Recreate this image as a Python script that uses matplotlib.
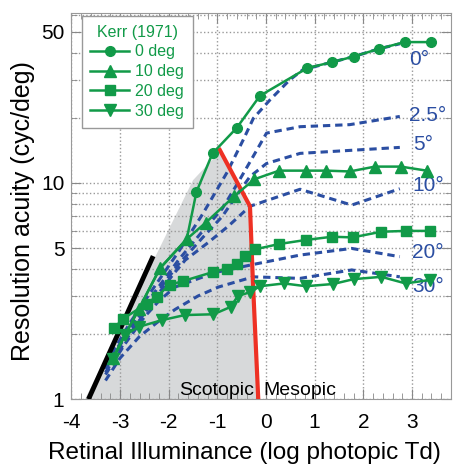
import numpy as np
import matplotlib
matplotlib.use('Agg')
import matplotlib.pyplot as plt
from matplotlib.ticker import FixedLocator, NullFormatter, MultipleLocator

plt.rcParams['font.family'] = ['Liberation Sans', 'DejaVu Sans']
plt.rcParams['axes.unicode_minus'] = False

# Kerr (1971) data, x = log retinal illuminance, y = acuity (cyc/deg)
x_0deg = [-3.15, -2.62, -2.18, -1.63, -1.43, -1.10, -0.60, -0.125, 0.85, 1.36, 1.80, 2.32, 2.85, 3.39]
y_0deg = [1.55, 2.6, 4.03, 5.5, 9.1, 13.7, 18.0, 25.3, 34.0, 36.2, 38.4, 41.7, 44.8, 44.8]

x_10deg = [-3.15, -2.62, -2.18, -1.63, -1.24, -0.65, -0.24, 0.27, 0.82, 1.24, 1.72, 2.24, 2.77, 3.30]
y_10deg = [1.55, 2.6, 4.03, 5.5, 6.55, 8.7, 10.4, 11.4, 11.4, 11.4, 11.3, 11.9, 11.9, 11.4]

x_20deg = [-3.12, -2.93, -2.45, -2.25, -1.98, -1.70, -1.08, -0.81, -0.60, -0.43, -0.23,
           0.27, 0.82, 1.36, 1.78, 2.37, 2.87, 3.37]
y_20deg = [2.14, 2.36, 2.77, 2.98, 3.38, 3.52, 3.88, 4.02, 4.22, 4.58, 4.93,
           5.22, 5.45, 5.64, 5.6, 5.95, 6.0, 6.0]

x_30deg = [-3.14, -2.90, -2.62, -2.14, -1.67, -1.08, -0.73, -0.58, -0.32, -0.125,
           0.37, 0.82, 1.38, 1.80, 2.37, 2.87, 3.37]
y_30deg = [1.54, 1.98, 2.16, 2.32, 2.45, 2.47, 2.67, 3.0, 3.13, 3.33,
           3.43, 3.33, 3.41, 3.59, 3.68, 3.43, 3.56]

# model curves (blue dashed)
model_labels = ['0°', '2.5°', '5°', '10°', '20°', '30°']
model_x = [
    [-3.3, -2.8, -2.3, -1.8, -1.3, -0.8, -0.47, -0.26, 0.08, 0.49, 0.76, 1.36, 1.8, 2.32, 2.75],
    [-3.3, -2.8, -2.3, -1.8, -1.3, -0.9, -0.58, -0.27, 0.01, 0.7, 1.72, 2.75],
    [-3.3, -2.8, -2.3, -1.8, -1.3, -0.9, -0.48, -0.33, 0.01, 0.7, 2.75],
    [-3.3, -2.8, -2.3, -1.9, -1.66, -1.19, -0.78, -0.33, 0.7, 1.76, 2.75],
    [-3.3, -2.9, -2.5, -2.2, -1.87, -1.05, -0.26, 0.7, 1.76, 2.75],
    [-3.3, -3.0, -2.6, -2.2, -1.87, -1.4, -0.98, -0.5, -0.26, 0.7, 1.76, 2.75],
]
model_y = [
    [1.45, 2.25, 3.3, 4.8, 7.2, 11.2, 15.8, 19.9, 24.2, 30.0, 33.4, 36.2, 38.4, 41.7, 44.0],
    [1.4, 2.15, 3.1, 4.4, 6.0, 7.6, 10.0, 13.2, 17.0, 18.2, 18.6, 20.3],
    [1.38, 2.1, 3.0, 4.2, 5.6, 7.0, 9.6, 10.7, 12.3, 13.7, 14.6],
    [1.33, 2.0, 2.9, 3.8, 4.4, 5.3, 6.3, 7.8, 9.35, 7.9, 9.4],
    [1.3, 1.8, 2.4, 2.85, 3.3, 3.85, 4.2, 4.64, 4.98, 4.56],
    [1.22, 1.55, 1.95, 2.3, 2.6, 3.0, 3.3, 3.55, 3.68, 3.62, 3.96, 3.68],
]
label_pos_x = [2.95, 2.93, 3.03, 3.0, 3.0, 3.0]
label_pos_y = [37.1, 20.6, 15.0, 9.7, 4.76, 3.31]

# scotopic region, scotopic/mesopic boundary, slope line
shade_x = [-3.72, -1.5, -1.01, -0.95, -0.33, -0.27, -0.16]
shade_y = [1.0, 10.3, 13.5, 14.2, 7.8, 3.5, 1.0]
bound_x = [-0.95, -0.33, -0.27, -0.16]
bound_y = [14.2, 7.8, 3.5, 1.0]
slope_x = [-3.65, -2.32]
slope_y = [1.0, 4.59]

green = '#119a48'
blue = '#2b4ea2'
red = '#ee3124'

fig = plt.figure(figsize=(4.55, 4.68), dpi=100)
ax = fig.add_axes([0.157, 0.147, 0.834, 0.825])
ax.set_yscale('log')

ax.fill(shade_x, shade_y, color='#d7d9da', lw=0, zorder=1)

for mx, my in zip(model_x, model_y):
    ax.plot(mx, my, color=blue, lw=2.2, ls=(0, (2.4, 1.6)), zorder=3)
for lab, lx, ly in zip(model_labels, label_pos_x, label_pos_y):
    ax.text(lx, ly, lab, color=blue, fontsize=15, ha='left', va='center', zorder=5)

ax.plot(slope_x, slope_y, color='black', lw=3.5, solid_capstyle='butt', zorder=4)
ax.plot(bound_x, bound_y, color=red, lw=3, zorder=4)

ax.plot(x_0deg, y_0deg, color=green, lw=1.8, marker='o', ms=7, markevery=list(range(4, len(x_0deg))),
        zorder=6, label='0 deg')
ax.plot(x_10deg, y_10deg, color=green, lw=1.8, marker='^', ms=8, zorder=6, label='10 deg')
ax.plot(x_20deg, y_20deg, color=green, lw=1.8, marker='s', ms=7, zorder=6, label='20 deg')
ax.plot(x_30deg, y_30deg, color=green, lw=1.8, marker='v', ms=8, zorder=6, label='30 deg')

ax.text(-0.24, 1.1, 'Scotopic', fontsize=14, ha='right', va='center', zorder=5)
ax.text(-0.05, 1.1, 'Mesopic', fontsize=14, ha='left', va='center', zorder=5)

ax.set_xlim(-4, 3.8)
ax.set_ylim(1, 61)
ax.set_xticks([-4, -3, -2, -1, 0, 1, 2, 3])
ax.xaxis.set_minor_locator(MultipleLocator(0.2))
ax.yaxis.set_major_locator(FixedLocator([1, 5, 10, 50]))
ax.yaxis.set_minor_locator(FixedLocator([2, 3, 4, 6, 7, 8, 9, 20, 30, 40, 60]))
ax.yaxis.set_minor_formatter(NullFormatter())
ax.set_yticklabels(['1', '5', '10', '50'])

ax.grid(True, which='major', color='#999999', ls=':', lw=1)
ax.grid(True, which='minor', axis='y', color='#999999', ls=':', lw=1)
ax.tick_params(which='both', direction='in', top=True, right=True, color='#888888', labelsize=15)
ax.tick_params(which='major', length=7)
ax.tick_params(which='minor', length=4)
ax.tick_params(axis='x', which='major', pad=10)
ax.tick_params(axis='y', which='major', pad=5)
for s in ax.spines.values():
    s.set_color('#999999')

ax.set_xlabel('Retinal Illuminance (log photopic Td)', fontsize=17.5)
ax.xaxis.set_label_coords(0.457, -0.112)
ax.set_ylabel('Resolution acuity (cyc/deg)', fontsize=18, labelpad=4)
ax.yaxis.set_label_coords(-0.097, 0.487)

leg = ax.legend(loc='upper left', bbox_to_anchor=(0.027, 0.993), borderaxespad=0,
                title='Kerr (1971)', fontsize=11.5, title_fontsize=11.5, fancybox=False,
                edgecolor='#999999', framealpha=1, handlelength=2.4, labelspacing=0.3,
                borderpad=0.55, handletextpad=0.4)
leg.get_title().set_color(green)
for t in leg.get_texts():
    t.set_color(green)

fig.savefig('out.png', dpi=100)
